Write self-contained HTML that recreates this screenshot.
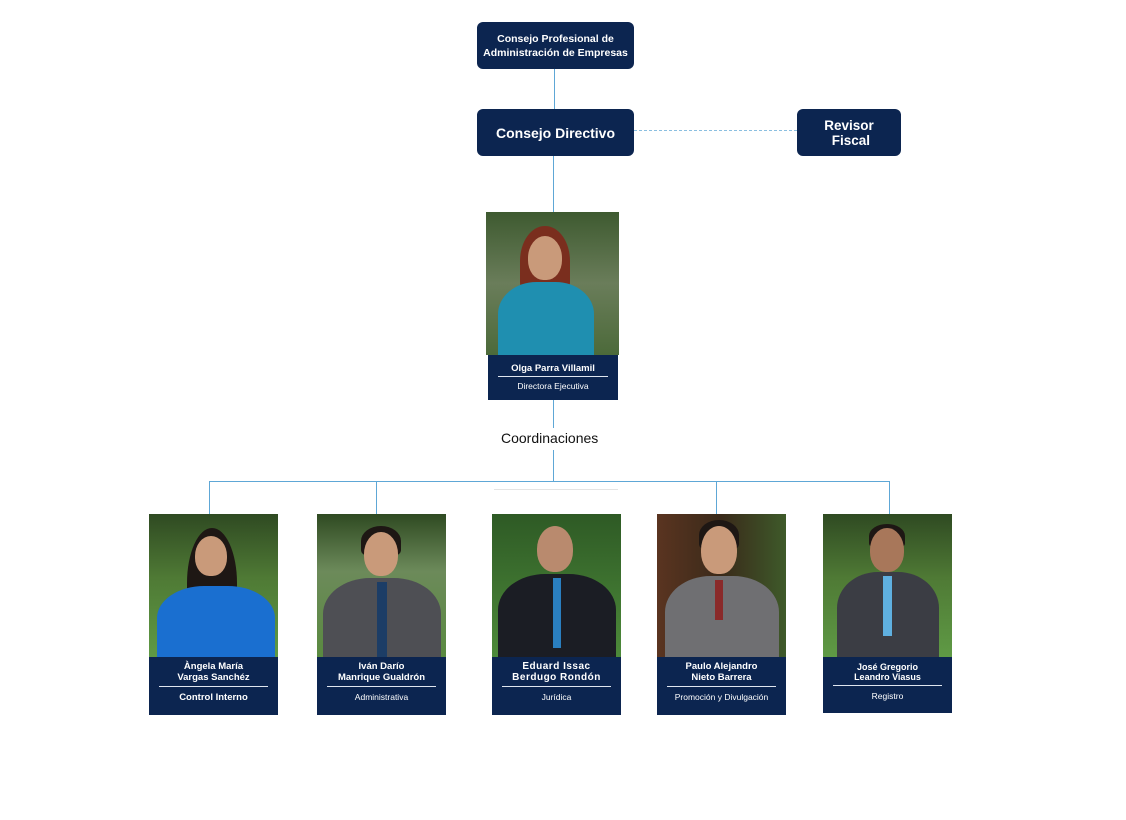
<!DOCTYPE html>
<html><head><meta charset="utf-8"><style>
body{margin:0;width:1126px;height:820px;background:#fff;position:relative;font-family:"Liberation Sans",sans-serif;overflow:hidden}
.a{position:absolute}
.box{position:absolute;background:#0c2550;color:#fff;border-radius:6px;display:flex;align-items:center;justify-content:center;text-align:center;font-weight:bold}
.ln{position:absolute;background:#5ea7d6}
.photo{position:absolute;overflow:hidden;background:linear-gradient(180deg,#2f4a22 0%,#4f7a35 45%,#5f9a45 100%)}
.head{position:absolute;border-radius:50% 50% 45% 45%;background:#c99a7a}
.hair{position:absolute;border-radius:50% 50% 20% 20%;background:#1e1714}
.body{position:absolute;border-radius:40% 40% 0 0}
.lab{position:absolute;background:#0c2550;color:#fff;text-align:center}
.nm{font-weight:bold;font-size:9.5px;line-height:11px;padding-top:4px}
.hr{height:1px;background:#dfe6f0;margin:3px 10px 5px}
.rl{font-size:8.5px}
</style></head><body>
<div class="box" style="left:477px;top:22px;width:157px;height:47px;font-size:10.5px;line-height:14px">Consejo Profesional de<br>Administración de Empresas</div>
<div class="box" style="left:477px;top:109px;width:157px;height:47px;font-size:14px">Consejo Directivo</div>
<div class="box" style="left:797px;top:109px;width:104px;height:47px;font-size:13.5px;line-height:15px">Revisor<br>&nbsp;Fiscal</div>
<div class="ln" style="left:554px;top:69px;width:1px;height:40px"></div>
<div class="ln" style="left:553px;top:156px;width:1px;height:56px"></div>
<div class="a" style="left:634px;top:130px;width:163px;border-top:1px dashed #8bbfe0"></div>

<div class="photo" style="left:486px;top:212px;width:133px;height:143px;background:linear-gradient(180deg,#3e5a30,#6a7d5a 50%,#4c6a3a)">
<div class="hair" style="left:34px;top:14px;width:50px;height:70px;background:#7a2e1e"></div>
<div class="head" style="left:42px;top:24px;width:34px;height:44px"></div>
<div class="body" style="left:12px;top:70px;width:96px;height:80px;background:#1f8fb0"></div></div>
<div class="lab" style="left:488px;top:355px;width:130px;height:45px"><div class="nm" style="padding-top:8px">Olga Parra Villamil</div><div class="hr" style="margin:2px 10px 4px"></div><div class="rl">Directora Ejecutiva</div></div>
<div class="ln" style="left:553px;top:400px;width:1px;height:28px"></div>
<div class="a" style="left:501px;top:430px;font-size:14px;color:#111">Coordinaciones</div>
<div class="ln" style="left:553px;top:450px;width:1px;height:31px"></div>
<div class="ln" style="left:209px;top:481px;width:681px;height:1px"></div>
<div class="ln" style="left:209px;top:481px;width:1px;height:33px"></div>
<div class="ln" style="left:376px;top:481px;width:1px;height:33px"></div>
<div class="ln" style="left:716px;top:481px;width:1px;height:33px"></div>
<div class="ln" style="left:889px;top:481px;width:1px;height:33px"></div>
<div class="a" style="left:494px;top:489px;width:124px;height:1px;background:#e4e4e4"></div>

<!-- card 1 -->
<div class="photo" style="left:149px;top:514px;width:129px;height:143px">
<div class="hair" style="left:38px;top:14px;width:50px;height:110px"></div>
<div class="head" style="left:46px;top:22px;width:32px;height:40px"></div>
<div class="body" style="left:8px;top:72px;width:118px;height:80px;background:#1a6fd0"></div></div>
<div class="lab" style="left:149px;top:657px;width:129px;height:58px"><div class="nm">Àngela María<br>Vargas Sanchéz</div><div class="hr"></div><div class="rl" style="font-weight:bold;font-size:9.5px">Control Interno</div></div>
<!-- card 2 -->
<div class="photo" style="left:317px;top:514px;width:129px;height:143px;background:linear-gradient(180deg,#2f4a22,#6c8a5a 40%,#5a8a40)">
<div class="hair" style="left:44px;top:12px;width:40px;height:30px"></div>
<div class="head" style="left:47px;top:18px;width:34px;height:44px"></div>
<div class="body" style="left:6px;top:64px;width:118px;height:90px;background:#4e4f54"></div>
<div class="a" style="left:60px;top:68px;width:10px;height:75px;background:#1c3d66"></div></div>
<div class="lab" style="left:317px;top:657px;width:129px;height:58px"><div class="nm">Iván Darío<br>Manrique Gualdrón</div><div class="hr"></div><div class="rl">Administrativa</div></div>
<!-- card 3 -->
<div class="photo" style="left:492px;top:514px;width:129px;height:143px;background:linear-gradient(180deg,#2e5a25,#4d8a3a)">
<div class="head" style="left:45px;top:12px;width:36px;height:46px;background:#b98a6e"></div>
<div class="body" style="left:6px;top:60px;width:118px;height:90px;background:#1b1d24"></div>
<div class="a" style="left:61px;top:64px;width:8px;height:70px;background:#2a7fc0"></div></div>
<div class="lab" style="left:492px;top:657px;width:129px;height:58px"><div class="nm" style="font-size:10px;letter-spacing:.5px">Eduard Issac<br>Berdugo Rondón</div><div class="hr"></div><div class="rl">Jurídica</div></div>
<!-- card 4 -->
<div class="photo" style="left:657px;top:514px;width:129px;height:143px;background:linear-gradient(90deg,#5a3420,#3a2a1a 50%,#3e5a2a)">
<div class="hair" style="left:42px;top:6px;width:40px;height:30px"></div>
<div class="head" style="left:44px;top:12px;width:36px;height:48px"></div>
<div class="body" style="left:8px;top:62px;width:114px;height:90px;background:#6f6f72"></div>
<div class="a" style="left:58px;top:66px;width:8px;height:40px;background:#8a2a2a"></div></div>
<div class="lab" style="left:657px;top:657px;width:129px;height:58px"><div class="nm">Paulo Alejandro<br>Nieto Barrera</div><div class="hr"></div><div class="rl">Promoción y Divulgación</div></div>
<!-- card 5 -->
<div class="photo" style="left:823px;top:514px;width:129px;height:143px">
<div class="hair" style="left:46px;top:10px;width:36px;height:24px"></div>
<div class="head" style="left:47px;top:14px;width:34px;height:44px;background:#a8775a"></div>
<div class="body" style="left:14px;top:58px;width:102px;height:90px;background:#3b3d44"></div>
<div class="a" style="left:60px;top:62px;width:9px;height:60px;background:#5fb0e0"></div></div>
<div class="lab" style="left:823px;top:657px;width:129px;height:56px"><div class="nm" style="font-size:9px;line-height:10px;padding-top:5px">José Gregorio<br>Leandro Viasus</div><div class="hr"></div><div class="rl">Registro</div></div>
</body></html>
